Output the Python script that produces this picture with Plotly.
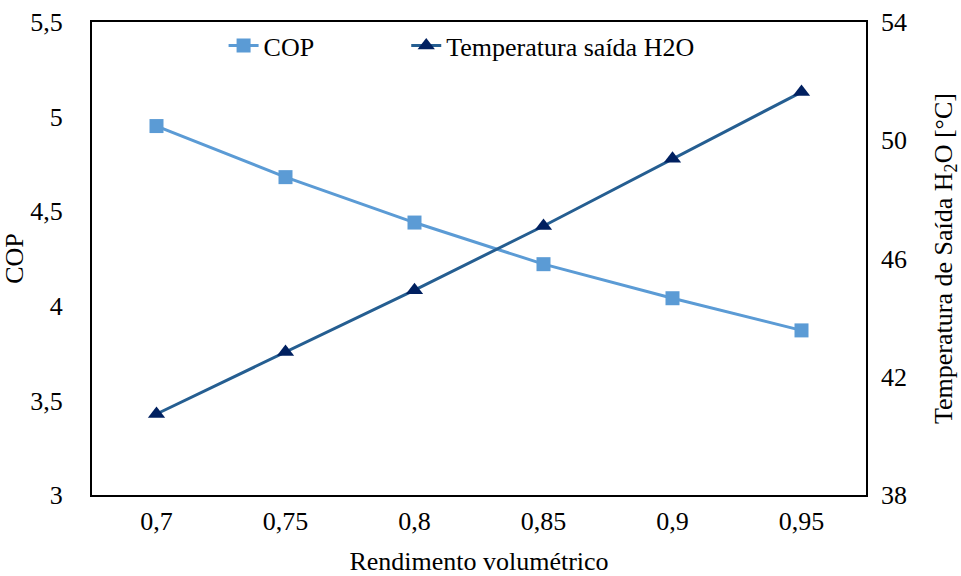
import plotly.graph_objects as go

categories = ["0,7", "0,75", "0,8", "0,85", "0,9", "0,95"]
cop = [4.95, 4.68, 4.44, 4.22, 4.04, 3.87]
temp = [40.74, 42.84, 44.93, 47.1, 49.37, 51.63]

FF = "Times New Roman, Liberation Serif, serif"
SZ = 26

def f(size=SZ):
    return dict(family=FF, size=size, color="black")

fig = go.Figure()
fig.add_trace(go.Scatter(
    x=categories, y=cop, name="COP", mode="lines+markers",
    line=dict(color="#5B9BD5", width=3),
    marker=dict(symbol="square", size=14, color="#5B9BD5"),
    legend="legend",
))
fig.add_trace(go.Scatter(
    x=categories, y=temp, name="Temperatura saída H2O", mode="lines+markers",
    yaxis="y2",
    line=dict(color="#255E91", width=3),
    marker=dict(symbol="triangle-up", size=15, color="#002060"),
    legend="legend2",
))

fig.update_layout(
    width=961, height=576,
    margin=dict(l=92, r=95, t=22, b=81, autoexpand=False),
    paper_bgcolor="white", plot_bgcolor="white",
    separators=", ",
    font=f(),
    showlegend=True,
    legend=dict(x=0.170, y=1.0, xanchor="left", yanchor="top",
                font=f(), bgcolor="rgba(0,0,0,0)"),
    legend2=dict(x=0.406, y=1.0, xanchor="left", yanchor="top",
                 font=f(), bgcolor="rgba(0,0,0,0)"),
    xaxis=dict(
        type="category", range=[-0.5, 5.5], automargin=False,
        showline=True, linecolor="black", linewidth=2, mirror=True,
        showgrid=False, ticks="", tickfont=f(), ticklabelstandoff=2,
        title=dict(text="Rendimento volumétrico", font=f(), standoff=18),
    ),
    yaxis=dict(
        range=[3, 5.5], dtick=0.5, tickformat=",.1~f", automargin=False,
        showline=True, linecolor="black", linewidth=2, mirror=True,
        showgrid=False, ticks="", tickfont=f(), ticklabelstandoff=22,
        title=dict(text="COP", font=f(), standoff=4),
        zeroline=False,
    ),
    yaxis2=dict(
        range=[38, 54], tick0=38, dtick=4, overlaying="y", side="right", automargin=False,
        showline=False, showgrid=False, ticks="", tickfont=f(), ticklabelstandoff=14,
        title=dict(text="Temperatura de Saída H<sub>2</sub>O [°C]", font=f(), standoff=28),
        zeroline=False,
    ),
)

fig.write_html("out.html")
